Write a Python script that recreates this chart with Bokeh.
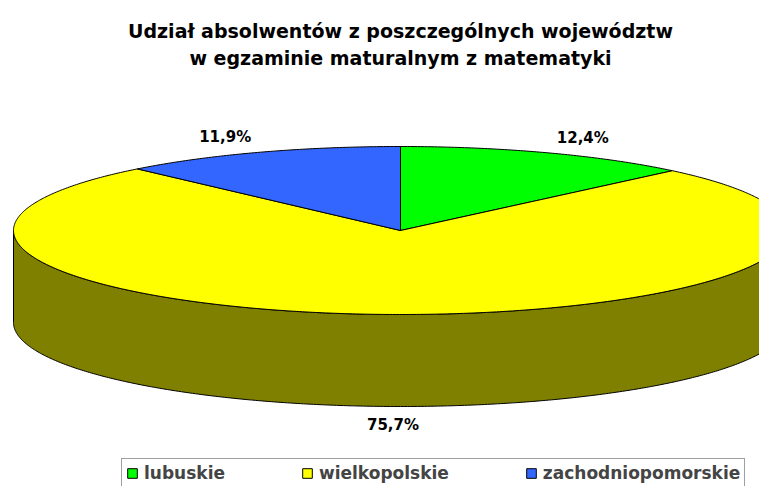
import numpy as np
from bokeh.plotting import figure
from bokeh.models import ColumnDataSource, Range1d, Label
from bokeh.core.properties import value
from bokeh.embed import file_html
from bokeh.resources import INLINE

# ---- data ----
categories = ["lubuskie", "wielkopolskie", "zachodniopomorskie"]
shares = [12.4, 75.7, 11.9]
colors = ["#00FF00", "#FFFF00", "#3366FF"]
title_lines = ["Udział absolwentów z poszczególnych województw",
               "w egzaminie maturalnym z matematyki"]

# ---- layout ----
W, H = 759, 486
CX, CY = 400, 230          # centre of the top ellipse (pixels)
RX, RY = 387, 84           # radii of the top ellipse
DEPTH = 92                 # thickness of the 3D disc
LRX, LRY = 480, 100        # ellipse on which the value labels sit
FONT = "DejaVu Sans"


def darken(hex_color, f=0.5):
    h = hex_color.lstrip("#")
    r, g, b = (int(h[i:i + 2], 16) for i in (0, 2, 4))
    return "#%02x%02x%02x" % (int(r * f), int(g * f), int(b * f))


def arc(a0, a1, dy=0.0):
    """Points on the ellipse, angles clockwise from 12 o'clock (degrees)."""
    n = max(2, int(abs(a1 - a0) * 2) + 1)
    t = np.radians(np.linspace(a0, a1, n))
    return CX + RX * np.sin(t), CY - RY * np.cos(t) + dy


total = float(sum(shares))
starts, ends = [], []
acc = 0.0
for s in shares:
    starts.append(acc / total * 360.0)
    acc += s
    ends.append(acc / total * 360.0)

# top faces
top_xs, top_ys = [], []
for a0, a1 in zip(starts, ends):
    ax, ay = arc(a0, a1)
    top_xs.append(np.concatenate([[CX], ax, [CX]]))
    top_ys.append(np.concatenate([[CY], ay, [CY]]))

# visible side walls (front half: 90..270 degrees)
side_xs, side_ys, side_cols = [], [], []
for a0, a1, c in zip(starts, ends, colors):
    lo, hi = max(a0, 90.0), min(a1, 270.0)
    if hi > lo:
        tx, ty = arc(lo, hi)
        bx, by = arc(hi, lo, DEPTH)
        side_xs.append(np.concatenate([tx, bx]))
        side_ys.append(np.concatenate([ty, by]))
        side_cols.append(darken(c))

# value labels
lab_x, lab_y, lab_t = [], [], []
for a0, a1, s in zip(starts, ends, shares):
    m = np.radians((a0 + a1) / 2.0)
    x = CX + LRX * np.sin(m)
    y = CY - LRY * np.cos(m)
    if np.cos(m) < 0:
        y += DEPTH + 3
    lab_x.append(x)
    lab_y.append(y)
    lab_t.append(("%.1f" % s).replace(".", ",") + "%")

p = figure(width=W, height=H, x_range=Range1d(0, W), y_range=Range1d(H, 0),
           x_axis_type=None, y_axis_type=None, output_backend="svg",
           toolbar_location=None, min_border=0)
p.grid.visible = False
p.outline_line_color = None
p.background_fill_color = "white"
p.border_fill_color = "white"

p.patches(xs=side_xs, ys=side_ys, fill_color=side_cols,
          line_color="black", line_width=1)

top_src = ColumnDataSource(dict(xs=top_xs, ys=top_ys, fill=colors, name=categories))
p.patches(xs="xs", ys="ys", fill_color="fill", line_color="black", line_width=1,
          source=top_src, legend_field="name")

lab_src = ColumnDataSource(dict(x=lab_x, y=lab_y, t=lab_t))
p.text(x="x", y="y", text="t", source=lab_src, text_align="center",
       text_baseline="middle", text_font=value(FONT), text_font_style="bold",
       text_font_size="15px", text_color="black")

for i, line in enumerate(title_lines):
    p.add_layout(Label(x=400, y=30 + 27 * i, text=line, text_align="center",
                       text_baseline="alphabetic", text_font=FONT,
                       text_font_style="bold", text_font_size="19px",
                       text_color="black"))

lg = p.legend[0]
lg.orientation = "horizontal"
lg.location = (121, -2)
lg.glyph_width = 12
lg.glyph_height = 12
lg.label_standoff = 6
lg.spacing = 76
lg.padding = 4
lg.margin = 0
lg.label_height = 18
lg.label_text_font = FONT
lg.label_text_font_style = "bold"
lg.label_text_font_size = "17px"
lg.border_line_color = "#404040"
lg.border_line_width = 1
lg.background_fill_color = "white"
lg.background_fill_alpha = 1.0

open("out.html", "w").write(file_html(p, INLINE))
